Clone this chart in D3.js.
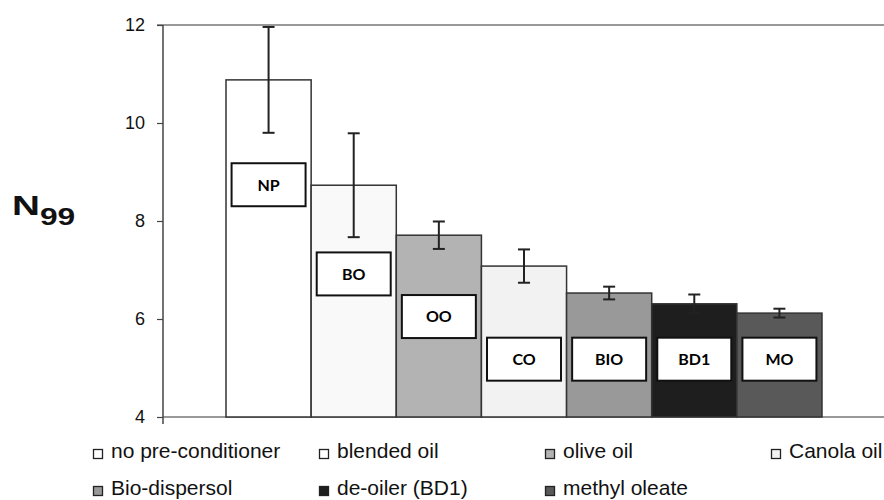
<!DOCTYPE html>
<html lang="en">
<head>
  <meta charset="UTF-8">
  <title>N99</title>
  <style type="text/css">
    body { margin: 0; background: #fff; }
    svg { display: block; }
  </style>
  <script src="https://cdn.jsdelivr.net/npm/d3@7"></script>
</head>
<body>
  <script type="text/javascript">
    var codes = ['NP', 'BO', 'OO', 'CO', 'BIO', 'BD1', 'MO'];
    var names = ['no pre-conditioner', 'blended oil', 'olive oil', 'Canola oil',
                 'Bio-dispersol', 'de-oiler (BD1)', 'methyl oleate'];
    var values = [10.88, 8.73, 7.71, 7.08, 6.53, 6.31, 6.12];
    var errors = [1.08, 1.06, 0.28, 0.34, 0.13, 0.19, 0.09];
    var labelY = [8.74, 6.92, 6.05, 5.18, 5.18, 5.18, 5.18];   // label box centres, in N99 units
    var yTicks = [4, 6, 8, 10, 12];
    var colors = ['#ffffff', '#f9f9f9', '#b3b3b3', '#f2f2f2', '#999999', '#1e1e1e', '#595959'];

    var width = 884, height = 500;
    var svg = d3.select('body').append('svg')
                .attr('width', width)
                .attr('height', height);

    var y = d3.scaleLinear().domain([4, 12]).range([417, 25]);
    var x = d3.scaleBand().domain(codes).range([163, 885])
              .paddingInner(0).paddingOuter(0.74);

    // top frame line
    svg.append('line')
       .attr('x1', 157).attr('x2', width)
       .attr('y1', y(12)).attr('y2', y(12))
       .attr('stroke', '#999').attr('stroke-width', 2);

    // bottom axis line
    svg.append('line')
       .attr('x1', 163).attr('x2', width)
       .attr('y1', y(4)).attr('y2', y(4))
       .attr('stroke', '#999').attr('stroke-width', 2);

    // y axis
    var yAxis = svg.append('g')
       .attr('transform', 'translate(163,0)')
       .call(d3.axisLeft(y).tickValues(yTicks).tickSize(6).tickPadding(12).tickSizeOuter(0));
    yAxis.select('.domain').remove();
    yAxis.selectAll('.tick line').attr('stroke', '#444').attr('stroke-width', 1.2);
    yAxis.selectAll('.tick text')
         .attr('font-family', '"Liberation Sans", Arial, sans-serif')
         .attr('font-size', 18).attr('fill', '#111');
    svg.append('line')
       .attr('x1', 163).attr('x2', 163)
       .attr('y1', y(12)).attr('y2', y(4) + 7)
       .attr('stroke', '#444').attr('stroke-width', 1.5);

    // bars
    svg.selectAll('rect.bar')
       .data(values)
       .enter()
       .append('rect')
       .attr('class', 'bar')
       .attr('x', function(d, i) { return x(codes[i]); })
       .attr('y', function(d) { return y(d); })
       .attr('width', x.bandwidth())
       .attr('height', function(d) { return y(4) - y(d); })
       .attr('fill', function(d, i) { return colors[i]; })
       .attr('stroke', '#333')
       .attr('stroke-width', 1.5);

    // error bars
    var eb = svg.selectAll('g.err')
       .data(values)
       .enter()
       .append('g')
       .attr('class', 'err')
       .attr('stroke', '#222')
       .attr('stroke-width', 2);
    eb.append('line')
      .attr('x1', function(d, i) { return x(codes[i]) + x.bandwidth() / 2; })
      .attr('x2', function(d, i) { return x(codes[i]) + x.bandwidth() / 2; })
      .attr('y1', function(d, i) { return y(d + errors[i]); })
      .attr('y2', function(d, i) { return y(d - errors[i]); });
    [1, -1].forEach(function(s) {
      eb.append('line')
        .attr('x1', function(d, i) { return x(codes[i]) + x.bandwidth() / 2 - 6; })
        .attr('x2', function(d, i) { return x(codes[i]) + x.bandwidth() / 2 + 6; })
        .attr('y1', function(d, i) { return y(d + s * errors[i]); })
        .attr('y2', function(d, i) { return y(d + s * errors[i]); });
    });

    // label boxes
    var lb = svg.selectAll('g.lab')
       .data(labelY)
       .enter()
       .append('g')
       .attr('class', 'lab')
       .attr('transform', function(d, i) {
         return 'translate(' + (x(codes[i]) + x.bandwidth() / 2) + ',' + y(d) + ')';
       });
    lb.append('rect')
      .attr('x', -37).attr('y', -21.5)
      .attr('width', 74).attr('height', 43)
      .attr('fill', '#fff')
      .attr('stroke', '#111')
      .attr('stroke-width', 2);
    lb.append('text')
      .attr('text-anchor', 'middle')
      .attr('dy', '0.36em')
      .attr('font-family', 'Lato, "Open Sans", sans-serif')
      .attr('font-weight', 'bold')
      .attr('font-size', 16)
      .attr('fill', '#000')
      .text(function(d, i) { return codes[i]; });

    // y label N99
    var yl = svg.append('text')
       .attr('transform', 'translate(12,215) scale(1.38,1)')
       .attr('font-family', '"Liberation Sans", Arial, sans-serif')
       .attr('font-weight', 'bold')
       .attr('fill', '#111');
    yl.append('tspan').attr('font-size', 28).text('N');
    yl.append('tspan').attr('font-size', 23).attr('dy', 10).text('99');

    // legend
    var lg = svg.selectAll('g.leg')
       .data(names)
       .enter()
       .append('g')
       .attr('class', 'leg')
       .attr('transform', function(d, i) {
         return 'translate(' + (93 + (i % 4) * 226) + ',' + (458 + Math.floor(i / 4) * 37) + ')';
       });
    lg.append('rect')
      .attr('x', 0.5).attr('y', -8.5)
      .attr('width', 9).attr('height', 9)
      .attr('fill', function(d, i) { return i === 1 ? '#ffffff' : colors[i]; })
      .attr('stroke', '#222')
      .attr('stroke-width', 1.3);
    lg.append('text')
      .attr('x', 18)
      .attr('font-family', '"Liberation Sans", Arial, sans-serif')
      .attr('font-size', 21)
      .attr('fill', '#111')
      .text(function(d) { return d; });
  </script>
</body>
</html>
